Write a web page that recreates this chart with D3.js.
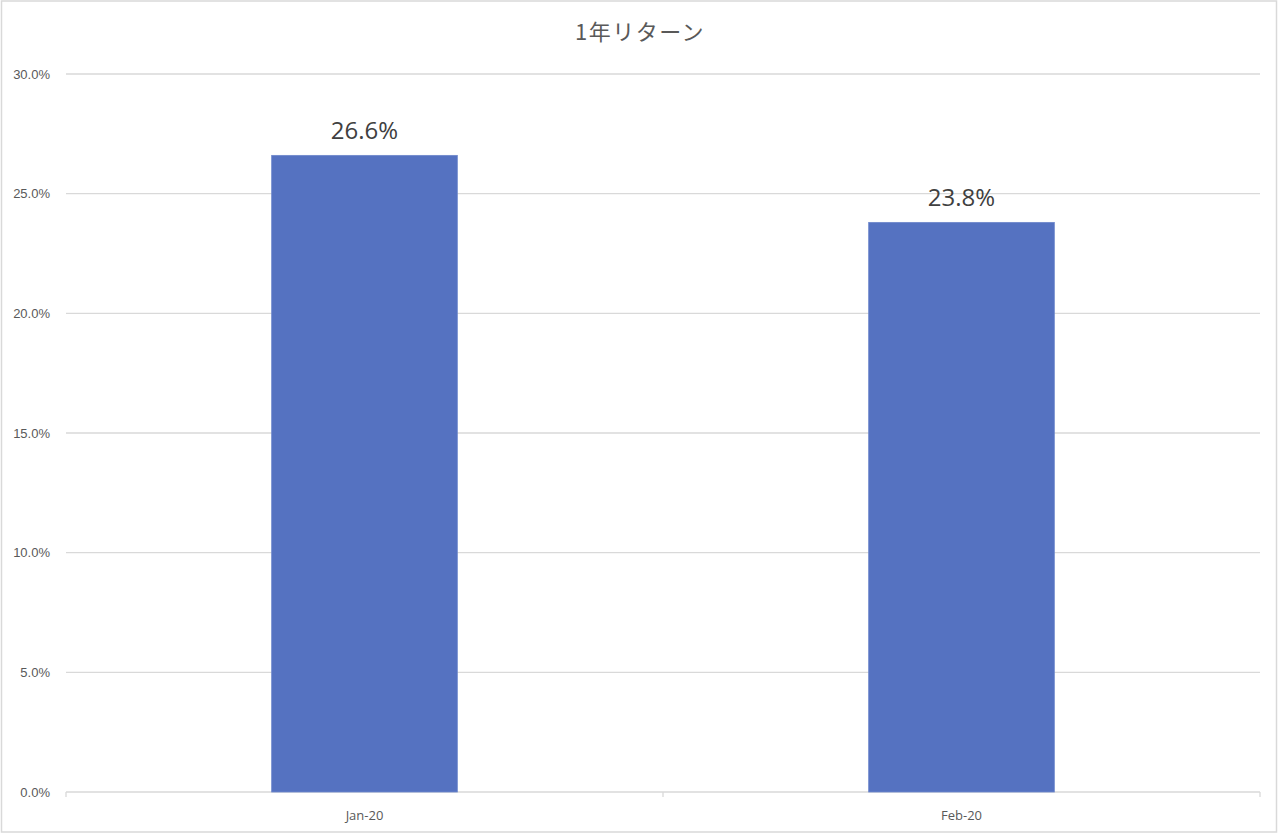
<!DOCTYPE html>
<html lang="ja">
<head>
  <meta charset="UTF-8" />
  <title>1年リターン</title>
  <script src="https://d3js.org/d3.v7.min.js"></script>
  <style>
    body {
      margin: 0;
      background: white;
      font-family: "Open Sans", "Noto Sans", "Noto Sans CJK JP", sans-serif;
    }

    .axis text {
      fill: #595959;
      font-size: 13px;
    }

    .grid line {
      stroke: #d9d9d9;
      stroke-width: 1.3px;
    }

    .bar-label {
      fill: #404040;
      font-size: 24px;
      text-anchor: middle;
    }

    .title {
      fill: #595959;
      font-size: 22px;
      letter-spacing: 1.5px;
      text-anchor: middle;
      font-family: "Noto Sans CJK JP", "Open Sans", sans-serif;
    }
  </style>
</head>
<body>
  <svg width="1280" height="834"></svg>

  <script>
    const categories = ["Jan-20", "Feb-20"];
    const returns = [0.266, 0.238];
    const yTicks = [0, 0.05, 0.10, 0.15, 0.20, 0.25, 0.30];

    const svg = d3.select("svg"),
          width = +svg.attr("width"),
          height = +svg.attr("height"),
          margin = { top: 74, right: 20, bottom: 42, left: 66 };

    const data = categories.map((c, i) => ({ cat: c, value: returns[i] }));

    // chart frame
    svg.append("rect")
       .attr("x", 1.5)
       .attr("y", 1)
       .attr("width", 1275)
       .attr("height", 831)
       .attr("fill", "white")
       .attr("stroke", "#d9d9d9")
       .attr("stroke-width", 1.5);

    const x = d3.scaleBand()
                .domain(categories)
                .range([margin.left, width - margin.right])
                .paddingInner(0.689)
                .paddingOuter(0.3445);

    const y = d3.scaleLinear()
                .domain([0, 0.30])
                .range([height - margin.bottom, margin.top]);

    // gridlines
    svg.append("g")
       .attr("class", "grid")
       .selectAll("line")
       .data(yTicks.filter(t => t > 0))
       .enter()
       .append("line")
       .attr("x1", margin.left)
       .attr("x2", width - margin.right)
       .attr("y1", d => y(d))
       .attr("y2", d => y(d));

    // Y-axis labels
    const yAxis = svg.append("g")
       .attr("class", "axis")
       .attr("transform", `translate(${margin.left},0)`)
       .call(d3.axisLeft(y).tickValues(yTicks).tickFormat(d3.format(".1%")).tickSize(0).tickPadding(16));
    yAxis.select(".domain").remove();

    // X-axis line with boundary ticks
    const xAxisG = svg.append("g")
       .attr("class", "axis")
       .attr("transform", `translate(0,${y(0)})`);

    xAxisG.append("line")
       .attr("x1", margin.left)
       .attr("x2", width - margin.right)
       .attr("stroke", "#d9d9d9")
       .attr("stroke-width", 1.3);

    const step = x.step();
    const boundaries = [margin.left].concat(categories.map(c => x(c) + x.bandwidth() / 2 + step / 2));
    xAxisG.selectAll(".bound")
       .data(boundaries)
       .enter()
       .append("line")
       .attr("x1", d => d)
       .attr("x2", d => d)
       .attr("y1", 0)
       .attr("y2", 5)
       .attr("stroke", "#d9d9d9")
       .attr("stroke-width", 1.3);

    xAxisG.selectAll(".cat")
       .data(categories)
       .enter()
       .append("text")
       .attr("x", d => x(d) + x.bandwidth() / 2)
       .attr("y", 28)
       .attr("text-anchor", "middle")
       .text(d => d);

    // bars
    svg.selectAll(".bar")
       .data(data)
       .enter()
       .append("rect")
       .attr("class", "bar")
       .attr("x", d => x(d.cat))
       .attr("y", d => y(d.value))
       .attr("width", x.bandwidth())
       .attr("height", d => y(0) - y(d.value))
       .attr("fill", "#5572c1")
       .attr("stroke", "#6d87cc")
       .attr("stroke-width", 0.8);

    // value labels
    svg.selectAll(".bar-label")
       .data(data)
       .enter()
       .append("text")
       .attr("class", "bar-label")
       .attr("x", d => x(d.cat) + x.bandwidth() / 2)
       .attr("y", d => y(d.value) - 16)
       .text(d => d3.format(".1%")(d.value));

    // title
    svg.append("text")
       .attr("class", "title")
       .attr("x", width / 2)
       .attr("y", 40)
       .text("1年リターン");
  </script>
</body>
</html>
